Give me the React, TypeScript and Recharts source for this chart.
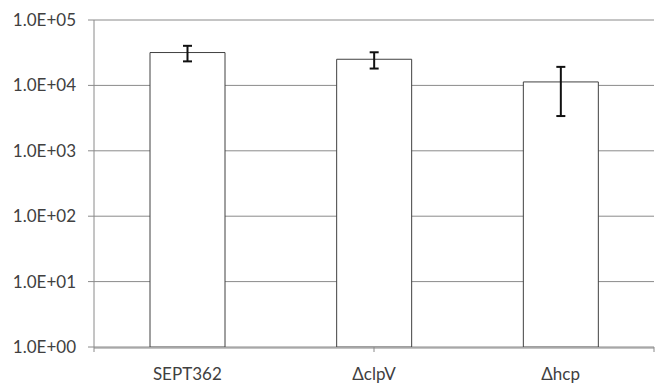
import { BarChart, Bar, XAxis, YAxis, CartesianGrid, ErrorBar } from 'recharts';

const strains = ['SEPT362', 'ΔclpV', 'Δhcp'];
const means = [31800, 25100, 11300];
const errors = [8500, 7000, 7900];
const yTicks = [1, 10, 100, 1000, 10000, 100000];
const boundaryTicks = [0, 1, 2, 3];

const data = strains.map((name, i) => ({ name, value: means[i], err: errors[i] }));

const fmtExp = (v: number) => {
  const e = Math.round(Math.log10(v));
  return `1.0E+${String(e).padStart(2, '0')}`;
};

const font = { fontFamily: 'Lato, "Open Sans", sans-serif', fontSize: 17, fill: '#404040' };

export default function App() {
  return (
    <div style={{ width: 660, height: 385, background: '#fff' }}>
      <style>{'body{margin:0}'}</style>
      <BarChart
        width={660}
        height={385}
        data={data}
        margin={{ top: 20, right: 6, bottom: 0, left: 0 }}
      >
        <CartesianGrid vertical={false} stroke="#8a8a8a" xAxisId="b_cat" />
        <XAxis
          xAxisId="b_cat"
          dataKey="name"
          height={37}
          tickSize={0}
          tickMargin={20}
          axisLine={{ stroke: '#8a8a8a' }}
          tickLine={false}
          tick={font}
        />
        <XAxis
          xAxisId="a_edges"
          type="number"
          domain={[0, 3]}
          ticks={boundaryTicks}
          allowDataOverflow
          height={1}
          tickFormatter={() => ''}
          tickSize={5}
          axisLine={false}
          tickLine={{ stroke: '#8a8a8a' }}
        />
        <YAxis
          scale="log"
          domain={[1, 100000]}
          ticks={yTicks}
          allowDataOverflow
          width={94}
          tickSize={6}
          tickMargin={12}
          tickFormatter={fmtExp}
          axisLine={{ stroke: '#8a8a8a' }}
          tickLine={{ stroke: '#8a8a8a' }}
          tick={font}
        />
        <Bar
          xAxisId="b_cat"
          dataKey="value"
          fill="#ffffff"
          stroke="#404040"
          strokeWidth={1}
          barSize={75}
          isAnimationActive={false}
        >
          <ErrorBar dataKey="err" width={4.5} stroke="#111" strokeWidth={2} />
        </Bar>
      </BarChart>
    </div>
  );
}
